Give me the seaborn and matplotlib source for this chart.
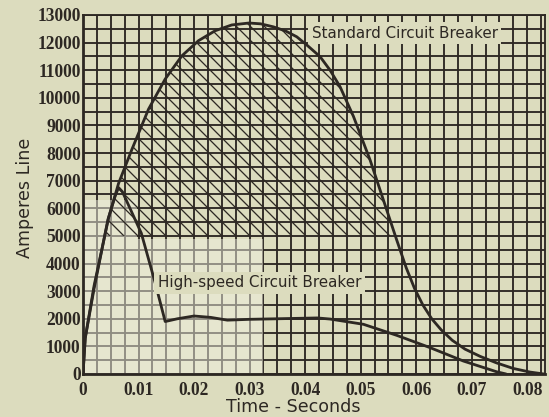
import matplotlib
matplotlib.use("Agg")
import matplotlib.pyplot as plt
import seaborn as sns
import pandas as pd
from matplotlib.ticker import MultipleLocator, FixedLocator
from matplotlib.patches import Rectangle

# leitura aproximada das curvas (tempo em s, corrente em A)
tempo_padrao = [0, 0.0004, 0.002, 0.0046, 0.0064, 0.0088, 0.0118, 0.0148, 0.0178, 0.0208,
                0.0238, 0.0268, 0.0299, 0.032, 0.0343, 0.0365, 0.0385, 0.0405, 0.0427,
                0.0445, 0.0463, 0.0487, 0.0517, 0.0541, 0.0565, 0.0582, 0.0597, 0.0612,
                0.0628, 0.0645, 0.0665, 0.0688, 0.0715, 0.0745, 0.0775, 0.0805, 0.083]
amperes_padrao = [0, 1300, 3200, 5650, 6900, 8130, 9590, 10680, 11520, 12070,
                  12430, 12640, 12710, 12680, 12570, 12420, 12210, 11880, 11490,
                  11000, 10400, 9330, 7750, 6300, 4850, 3850, 3100, 2500,
                  2000, 1600, 1220, 900, 640, 400, 200, 70, 0]

tempo_rapido = [0, 0.0004, 0.002, 0.0045, 0.0058, 0.0064, 0.0071, 0.0105, 0.013, 0.0148,
                0.017, 0.02, 0.023, 0.026, 0.03, 0.035, 0.0422, 0.0445, 0.0505, 0.0565,
                0.0625, 0.0685, 0.0745, 0.0762]
amperes_rapido = [0, 1300, 3100, 5600, 6450, 6750, 6600, 5100, 3300, 1900,
                  2000, 2100, 2050, 1950, 1980, 2000, 2030, 1990, 1800, 1400,
                  955, 470, 80, 0]

x_ticks = [0, 0.01, 0.02, 0.03, 0.04, 0.05, 0.06, 0.07, 0.08]
x_labels = ['0', '0.01', '0.02', '0.03', '0.04', '0.05', '0.06', '0.07', '0.08']
y_ticks = [0, 1000, 2000, 3000, 4000, 5000, 6000, 7000, 8000, 9000, 10000, 11000, 12000, 13000]
y_labels = [str(v) for v in y_ticks]

papel = '#dcdcbe'
tinta = '#2d2823'

sns.set_theme(style="whitegrid")
plt.rcParams['font.family'] = ['DejaVu Sans']
plt.rcParams['hatch.linewidth'] = 1.1
plt.rcParams['hatch.color'] = tinta

dpi = 84
fig = plt.figure(figsize=(549 / dpi, 417 / dpi), dpi=dpi, facecolor=papel)
ax = fig.add_axes([83 / 549, 1 - 374 / 417, (545 - 83) / 549, (374 - 15) / 417])
ax.set_facecolor(papel)

ax.set_xlim(0, 0.0832)
ax.set_ylim(0, 13000)

ax.xaxis.set_major_locator(FixedLocator(x_ticks))
ax.xaxis.set_minor_locator(MultipleLocator(0.0025))
ax.yaxis.set_major_locator(FixedLocator(y_ticks))
ax.yaxis.set_minor_locator(MultipleLocator(500))
ax.set_xticklabels(x_labels)
ax.set_yticklabels(y_labels)
ax.grid(which='both', color=tinta, linewidth=1.6, alpha=1)
ax.set_axisbelow(True)
ax.tick_params(which='both', length=0)
ax.tick_params(axis='x', pad=7)
ax.tick_params(axis='y', pad=2)
for lbl in ax.get_xticklabels() + ax.get_yticklabels():
    lbl.set_fontfamily('Liberation Serif')
    lbl.set_fontweight('bold')
    lbl.set_fontsize(15)
    lbl.set_color(tinta)

for lado, sp in ax.spines.items():
    sp.set_visible(True)
    sp.set_color(tinta)
    sp.set_linewidth(2.4 if lado in ('left', 'bottom') else 1.6)

# regiao clara/borrada do original
ax.add_patch(Rectangle((0, 0), 0.0325, 4900, facecolor='#f0f0e0', alpha=0.5,
                       edgecolor='none', zorder=1.5))
ax.add_patch(Rectangle((0, 4900), 0.0098, 1400, facecolor='#f0f0e0', alpha=0.5,
                       edgecolor='none', zorder=1.5))

# hachura entre a curva padrao e 5000 A
df_p = pd.DataFrame({'Tempo': tempo_padrao, 'Amperes': amperes_padrao})
acima = df_p['Amperes'] > 5000
ax.fill_between(df_p['Tempo'], df_p['Amperes'], 5000, where=acima, interpolate=True,
                facecolor='none', edgecolor=tinta, linewidth=0, hatch='\\\\', zorder=1.8)

sns.lineplot(x='Tempo', y='Amperes', data=df_p, ax=ax, color=tinta, linewidth=2.4,
             estimator=None, zorder=3)
df_r = pd.DataFrame({'Tempo': tempo_rapido, 'Amperes': amperes_rapido})
sns.lineplot(x='Tempo', y='Amperes', data=df_r, ax=ax, color=tinta, linewidth=2.4,
             estimator=None, zorder=3)

caixa = dict(facecolor=papel, edgecolor='none', pad=3)
ax.text(0.0412, 12340, 'Standard Circuit Breaker', fontsize=13, color=tinta,
        ha='left', va='center', bbox=caixa, zorder=4)
ax.text(0.0135, 3300, 'High-speed Circuit Breaker', fontsize=13, color=tinta,
        ha='left', va='center', bbox=caixa, zorder=4)

ax.set_xlabel('Time - Seconds', fontsize=15, color=tinta)
ax.set_ylabel('Amperes Line', fontsize=15, color=tinta)
ax.xaxis.label.set_va('center')
ax.yaxis.label.set_va('center')
ax.xaxis.set_label_coords(0.455, -0.092)
ax.yaxis.set_label_coords(-0.125, 0.49)

plt.savefig('out.png', dpi=dpi, facecolor=papel)
